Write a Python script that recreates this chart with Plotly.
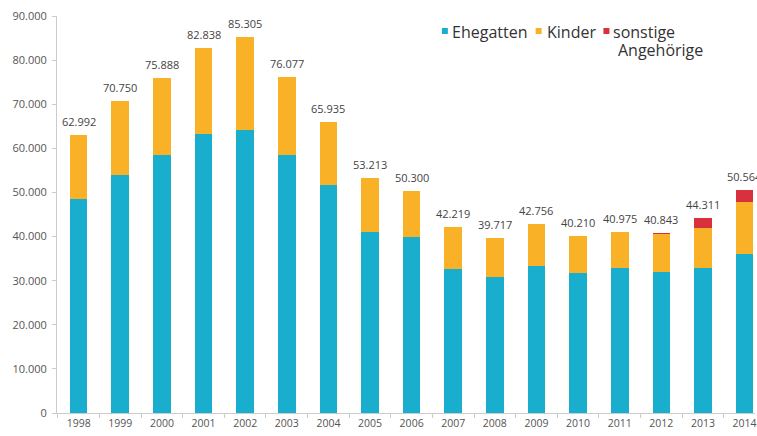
import plotly.graph_objects as go

years = ["1998", "1999", "2000", "2001", "2002", "2003", "2004", "2005", "2006",
         "2007", "2008", "2009", "2010", "2011", "2012", "2013", "2014"]
ehegatten = [48500, 54000, 58500, 63300, 64200, 58500, 51700, 41000, 39900,
             32600, 30800, 33300, 31700, 32900, 32000, 32900, 36100]
kinder = [14492, 16750, 17388, 19538, 21105, 17577, 14235, 12213, 10400,
          9619, 8917, 9456, 8510, 8075, 8543, 9111, 11764]
sonstige = [0, 0, 0, 0, 0, 0, 0, 0, 0, 0, 0, 0, 0, 0, 300, 2300, 2700]
totals = [62992, 70750, 75888, 82838, 85305, 76077, 65935, 53213, 50300,
          42219, 39717, 42756, 40210, 40975, 40843, 44311, 50564]
y_ticks = [0, 10000, 20000, 30000, 40000, 50000, 60000, 70000, 80000, 90000]

BLUE = "#19AECE"
ORANGE = "#F9B227"
RED = "#D8313D"
FONT = "Open Sans"

W, H = 757, 436
ML, MR, MT, MB = 57, 0, 16, 23
PW, PH = W - ML - MR, H - MT - MB


def pxx(x):  # page pixel -> paper x
    return (x - ML) / PW


def pxy(y):  # page pixel -> paper y
    return (H - MB - y) / PH


fig = go.Figure()
for name, vals, col in [("Ehegatten", ehegatten, BLUE),
                        ("Kinder", kinder, ORANGE),
                        ("sonstige Angehörige", sonstige, RED)]:
    fig.add_trace(go.Bar(x=years, y=vals, name=name, marker_color=col,
                         marker_line_width=0, showlegend=False,
                         hoverinfo="skip"))


def fmt(v):
    return f"{v:,}".replace(",", ".")


annotations = []
for i, t in enumerate(totals):
    annotations.append(dict(x=i, y=t, xref="x", yref="y", text=fmt(t),
                            showarrow=False, yanchor="bottom", yshift=4,
                            font=dict(family=FONT, size=11, color="#444")))

# legend (manual)
shapes = []
legend_items = [(443, 451, "Ehegatten", BLUE), (537, 546, "Kinder", ORANGE),
                (605, 613, "sonstige", RED)]
for sx, tx, label, col in legend_items:
    shapes.append(dict(type="rect", xref="paper", yref="paper",
                       x0=pxx(sx), x1=pxx(sx + 6), y0=pxy(34), y1=pxy(28),
                       fillcolor=col, line_width=0))
    annotations.append(dict(x=pxx(tx), y=pxy(32.5), xref="paper", yref="paper",
                            text=label, showarrow=False, xanchor="left",
                            yanchor="middle",
                            font=dict(family=FONT, size=16, color="#333")))
annotations.append(dict(x=pxx(618), y=pxy(50), xref="paper", yref="paper",
                        text="Angehörige", showarrow=False, xanchor="left",
                        yanchor="middle",
                        font=dict(family=FONT, size=16, color="#333")))

fig.update_layout(
    barmode="stack",
    bargap=0.576,
    width=W, height=H,
    margin=dict(l=ML, r=MR, t=MT, b=MB, pad=0),
    paper_bgcolor="white", plot_bgcolor="white",
    separators=",.",
    font=dict(family=FONT, size=11, color="#555"),
    annotations=annotations,
    shapes=shapes,
    showlegend=False,
)
fig.update_xaxes(type="category", range=[-0.52, 16.25], showgrid=False,
                 showline=True, linecolor="#ccc", linewidth=1,
                 ticks="outside", tickson="boundaries", ticklen=4,
                 tickcolor="#ccc", tickfont=dict(size=10.5, color="#555"),
                 ticklabeloverflow="allow", fixedrange=True)
fig.update_yaxes(range=[0, 90000], tickvals=y_ticks, tickformat=",d",
                 showgrid=False, showline=True, linecolor="#ccc", linewidth=1,
                 ticks="outside", ticklen=4, tickcolor="#ccc",
                 ticklabelstandoff=3, zeroline=False, ticklabeloverflow="allow",
                 tickfont=dict(size=11, color="#555"), fixedrange=True)

fig.write_html("out.html",
               config={"displayModeBar": False, "staticPlot": True},
               post_script="document.body.style.margin='0';"
                           "document.body.style.overflow='hidden';")
